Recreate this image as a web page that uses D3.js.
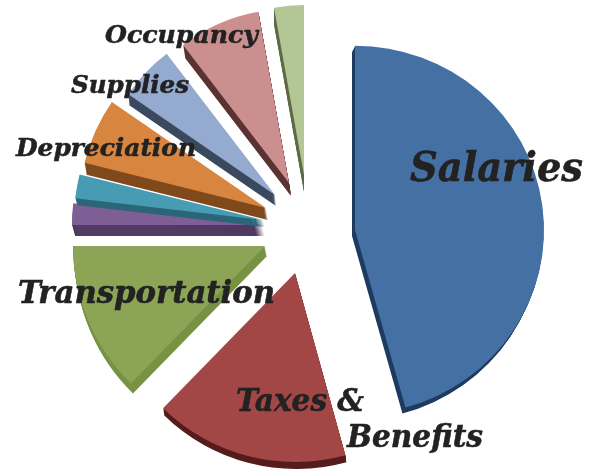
<!DOCTYPE html>
<html lang="en">
<head>
  <meta charset="UTF-8">
  <title>Expense Pie</title>
  <script src="https://d3js.org/d3.v7.min.js"></script>
  <style>
    html, body { margin: 0; background: #fff; }
    svg { display: block; }
    .label { font-family: "DejaVu Serif Condensed", "DejaVu Serif", serif; font-weight: bold; font-style: italic; fill: #222; stroke: #222; stroke-width: 0.5; }
  </style>
</head>
<body>
  <script>
    // Slices, clockwise from 12 o'clock (some slices carry no label in the picture)
    const categories = ["Salaries", "Taxes & Benefits", "Transportation", "Other A", "Other B", "Depreciation", "Supplies", "Occupancy", "Other C"];
    const shares = [45.7, 16.6, 12.7, 1.83, 2.05, 5.7, 5.0, 7.6, 2.82];

    // Look of each slice
    const topColors = ["#4470a3", "#a24644", "#8ba454", "#7d5f96", "#469bb2", "#d8853f", "#94aacf", "#cb8f90", "#b3c796"];
    const sideColors = ["#1d3a5e", "#551b1a", "#769243", "#4f3a63", "#2a6678", "#7f4a1f", "#3a4a5e", "#5a3333", "#5d6b45"];
    const radii = [189, 189, 192, 190, 189, 187, 178, 174, 170];
    const squash = [0.975, 1, 1, 1, 1, 1, 1, 1, 1];
    const explodeX = [53, -7, -37, -40, -39, -36, -27, -13, 2];
    const explodeY = [2, 45, 18, -3, -8, -20, -33, -45, -53];
    const depthX = [-3, 1, 2, 3, 2, 2, 1, 2, 0];
    const depthY = [6, 7, 10, 11, 7, 12, 11, 13, 17];

    const width = 597, height = 476;
    const cx = 302, cy = 228;

    const svg = d3.select("body").append("svg")
      .attr("width", width)
      .attr("height", height);

    // Soft edges, the source is a scaled up image
    svg.append("defs").append("filter")
      .attr("id", "soft")
      .append("feGaussianBlur")
      .attr("stdDeviation", 0.45);

    const pie = d3.pie().sort(null).value(d => d);
    const arcs = pie(shares);
    const arc = d3.arc().innerRadius(0);

    const plot = svg.append("g")
      .attr("transform", `translate(${cx},${cy})`)
      .attr("filter", "url(#soft)");

    const slices = plot.selectAll("g.slice")
      .data(arcs)
      .enter()
      .append("g")
      .attr("class", "slice")
      .attr("transform", (d, i) => `translate(${explodeX[i]},${explodeY[i]})`);

    // Thickness: the slice shape repeated along its depth direction
    slices.each(function (d, i) {
      const g = d3.select(this);
      const shape = arc({ ...d, outerRadius: radii[i] });
      const steps = d3.range(1, Math.max(Math.abs(depthX[i]), depthY[i]) + 1);
      g.selectAll("path.side")
        .data(steps)
        .enter()
        .append("path")
        .attr("class", "side")
        .attr("fill", sideColors[i])
        .attr("transform", s => `translate(${depthX[i] * s / steps.length},${depthY[i] * s / steps.length}) scale(1,${squash[i]})`)
        .attr("d", shape);
      g.append("path")
        .attr("class", "face")
        .attr("fill", topColors[i])
        .attr("transform", `scale(1,${squash[i]})`)
        .attr("d", shape);
    });

    // Labels sit over the slices, two of them run past the edge
    const labelRows = [
      { text: "Salaries", x: 410, y: 181, size: 41, w: 173 },
      { text: "Taxes &", x: 236, y: 411, size: 31, w: 128 },
      { text: "Benefits", x: 347, y: 447, size: 31, w: 136 },
      { text: "Transportation", x: 18, y: 303, size: 31, w: 257 },
      { text: "Depreciation", x: 16, y: 156, size: 25, w: 180 },
      { text: "Supplies", x: 71, y: 93, size: 25, w: 118 },
      { text: "Occupancy", x: 105, y: 43, size: 25, w: 153 }
    ];

    svg.selectAll("text.label")
      .data(labelRows)
      .enter()
      .append("text")
      .attr("class", "label")
      .attr("x", d => d.x)
      .attr("y", d => d.y)
      .attr("font-size", d => d.size)
      .attr("textLength", d => d.w)
      .attr("lengthAdjust", "spacingAndGlyphs")
      .text(d => d.text);
  </script>
</body>
</html>
